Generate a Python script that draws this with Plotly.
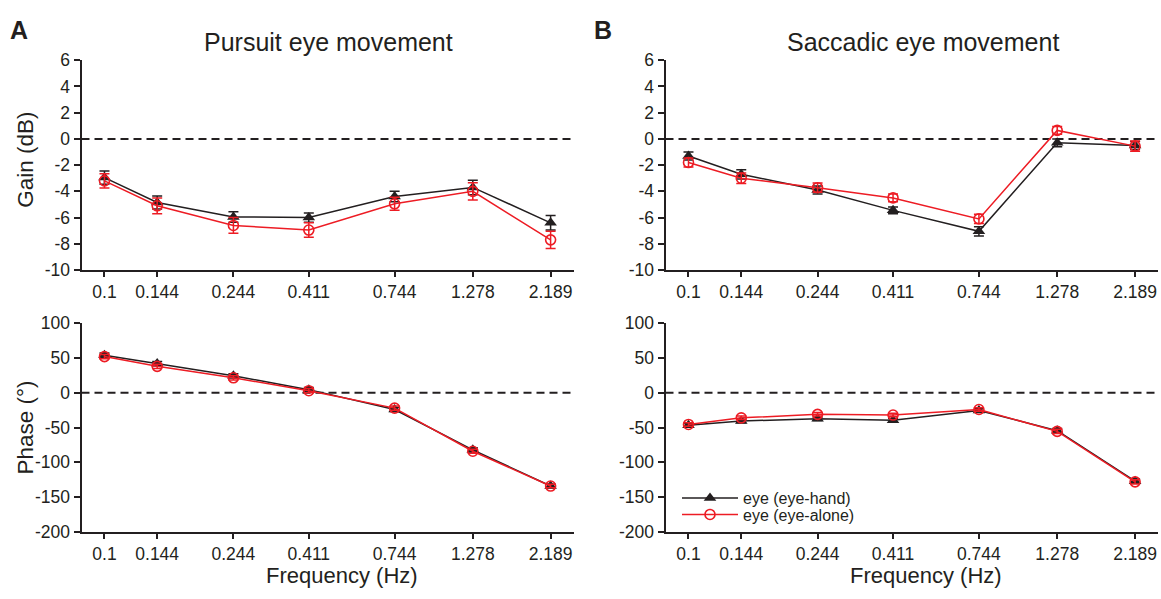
import plotly.graph_objects as go

# Stimulus frequencies (Hz) and their tick labels
freqs = [0.1, 0.144, 0.244, 0.411, 0.744, 1.278, 2.189]
freq_labels = ["0.1", "0.144", "0.244", "0.411", "0.744", "1.278", "2.189"]

# Pursuit eye movement: gain (dB)
pursuit_gain_hand = [-2.95, -4.85, -5.95, -6.0, -4.4, -3.7, -6.4]
pursuit_gain_hand_err = [0.5, 0.5, 0.4, 0.35, 0.4, 0.55, 0.55]
pursuit_gain_alone = [-3.2, -5.1, -6.6, -6.95, -4.95, -4.0, -7.7]
pursuit_gain_alone_err = [0.55, 0.6, 0.6, 0.55, 0.5, 0.65, 0.65]

# Pursuit eye movement: phase (deg)
pursuit_phase_hand = [54, 42, 24.5, 4.5, -24, -82, -134]
pursuit_phase_hand_err = [3, 3, 3, 3, 3, 3, 2.5]
pursuit_phase_alone = [52, 38, 21.5, 3, -22, -84, -134]
pursuit_phase_alone_err = [3, 3, 3, 3, 3, 3, 2.5]

# Saccadic eye movement: gain (dB)
saccadic_gain_hand = [-1.3, -2.7, -3.9, -5.45, -7.05, -0.3, -0.5]
saccadic_gain_hand_err = [0.3, 0.35, 0.3, 0.25, 0.35, 0.3, 0.3]
saccadic_gain_alone = [-1.8, -3.0, -3.72, -4.5, -6.1, 0.65, -0.55]
saccadic_gain_alone_err = [0.35, 0.4, 0.35, 0.3, 0.35, 0.3, 0.4]

# Saccadic eye movement: phase (deg)
saccadic_phase_hand = [-46.5, -40.5, -37.5, -39.5, -25.5, -54.5, -127]
saccadic_phase_hand_err = [2.5, 2.5, 2.5, 2.5, 2.5, 3, 3]
saccadic_phase_alone = [-45.5, -36, -31, -32, -24, -55.5, -128]
saccadic_phase_alone_err = [2.5, 2.5, 2.5, 2.5, 2.5, 3, 3]

gain_ticks = [-10, -8, -6, -4, -2, 0, 2, 4, 6]
phase_ticks = [-200, -150, -100, -50, 0, 50, 100]

INK = "#231f20"
RED = "#ed1c24"
FONT = "Liberation Sans, Arial, sans-serif"
W, H = 1161, 599

fig = go.Figure()


def add_pair(xa, ya, hand, hand_err, alone, alone_err, legend):
    fig.add_trace(go.Scatter(
        x=freqs, y=hand, xaxis=xa, yaxis=ya, mode="lines+markers",
        name="eye (eye-hand)", legend="legend", showlegend=legend,
        line=dict(color=INK, width=1.5),
        marker=dict(symbol="triangle-up", size=11, color=INK),
        error_y=dict(type="data", array=hand_err, color=INK, thickness=1.5, width=5),
    ))
    fig.add_trace(go.Scatter(
        x=freqs, y=alone, xaxis=xa, yaxis=ya, mode="lines+markers",
        name="eye (eye-alone)", legend="legend2", showlegend=legend,
        line=dict(color=RED, width=1.5),
        marker=dict(symbol="circle-open", size=10, color=RED, line=dict(width=1.6, color=RED)),
        error_y=dict(type="data", array=alone_err, color=RED, thickness=1.5, width=5),
    ))


add_pair("x", "y", pursuit_gain_hand, pursuit_gain_hand_err,
         pursuit_gain_alone, pursuit_gain_alone_err, False)
add_pair("x2", "y2", saccadic_gain_hand, saccadic_gain_hand_err,
         saccadic_gain_alone, saccadic_gain_alone_err, False)
add_pair("x3", "y3", pursuit_phase_hand, pursuit_phase_hand_err,
         pursuit_phase_alone, pursuit_phase_alone_err, False)
add_pair("x4", "y4", saccadic_phase_hand, saccadic_phase_hand_err,
         saccadic_phase_alone, saccadic_phase_alone_err, True)

x_left = [81.5 / W, 573.5 / W]
x_right = [665.5 / W, 1158 / W]
y_top = [1 - 269 / H, 1 - 52 / H]
y_bot = [1 - 540 / H, 1 - 324 / H]

xcommon = dict(
    type="log", range=[-1.069, 0.409], tickvals=freqs, ticktext=freq_labels,
    showgrid=False, zeroline=False, showline=True, linecolor=INK, linewidth=2,
    ticks="outside", ticklen=5, tickwidth=1.5, tickcolor=INK,
    tickfont=dict(family=FONT, size=17.5, color=INK),
)
ycommon = dict(
    showgrid=False, zeroline=False, showline=True, linecolor=INK, linewidth=2,
    ticks="outside", ticklen=6, tickwidth=1.5, tickcolor=INK,
    tickfont=dict(family=FONT, size=17.5, color=INK),
)
gain_axis = dict(range=[-10, 6], tickvals=gain_ticks, ticktext=[str(v) for v in gain_ticks])
phase_axis = dict(range=[-200, 100], tickvals=phase_ticks, ticktext=[str(v) for v in phase_ticks])

fig.update_layout(
    xaxis=dict(domain=x_left, anchor="y", **xcommon),
    xaxis2=dict(domain=x_right, anchor="y2", **xcommon),
    xaxis3=dict(domain=x_left, anchor="y3", **xcommon),
    xaxis4=dict(domain=x_right, anchor="y4", **xcommon),
    yaxis=dict(domain=y_top, anchor="x", **gain_axis, **ycommon),
    yaxis2=dict(domain=y_top, anchor="x2", **gain_axis, **ycommon),
    yaxis3=dict(domain=y_bot, anchor="x3", **phase_axis, **ycommon),
    yaxis4=dict(domain=y_bot, anchor="x4", **phase_axis, **ycommon),
)

# Dashed reference line at zero in every panel
for xr, yr in [("x", "y"), ("x2", "y2"), ("x3", "y3"), ("x4", "y4")]:
    fig.add_shape(type="line", xref=f"{xr} domain", yref=yr, x0=0, x1=1, y0=0, y1=0,
                  line=dict(color=INK, width=2, dash="8px,5px"), layer="below")

annotations = [
    dict(text="<b>A</b>", x=19 / W, y=1 - 21 / H, size=25),
    dict(text="<b>B</b>", x=603 / W, y=1 - 21 / H, size=25),
    dict(text="Pursuit eye movement", x=328 / W, y=1 - 33 / H, size=25),
    dict(text="Saccadic eye movement", x=923 / W, y=1 - 33 / H, size=25),
    dict(text="Frequency (Hz)", x=342 / W, y=1 - 585 / H, size=22),
    dict(text="Frequency (Hz)", x=926 / W, y=1 - 585 / H, size=22),
    dict(text="Gain (dB)", x=26 / W, y=1 - 155 / H, size=22.5, angle=-90),
    dict(text="Phase (°)", x=26 / W, y=1 - 432 / H, size=22.5, angle=-90),
]
for a in annotations:
    fig.add_annotation(
        text=a["text"], x=a["x"], y=a["y"], xref="paper", yref="paper",
        xanchor="center", yanchor="middle", showarrow=False,
        textangle=a.get("angle", 0),
        font=dict(family=FONT, size=a["size"], color=INK),
    )

legend_style = dict(
    xanchor="left", yanchor="middle", bgcolor="rgba(0,0,0,0)",
    font=dict(family=FONT, size=16, color=INK), itemwidth=56,
)
fig.update_layout(
    width=W, height=H, margin=dict(l=0, r=0, t=0, b=0),
    paper_bgcolor="white", plot_bgcolor="white",
    showlegend=True,
    legend=dict(x=677 / W, y=1 - 505 / H, **legend_style),
    legend2=dict(x=677 / W, y=1 - 522 / H, **legend_style),
)

fig.write_html("out.html")
